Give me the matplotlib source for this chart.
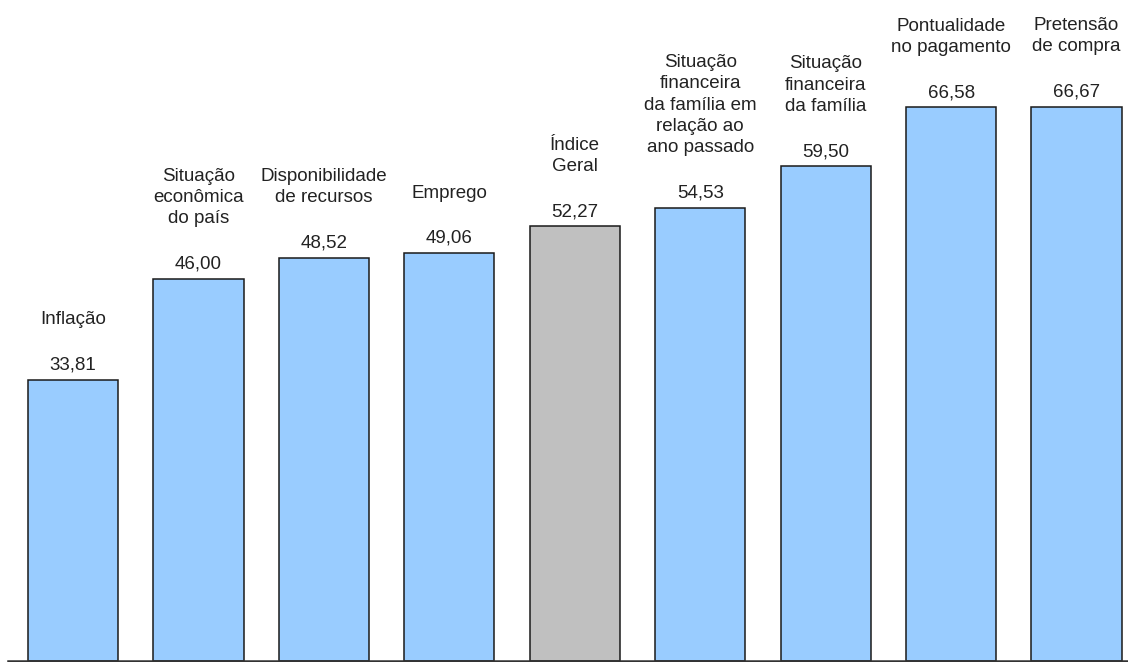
import numpy as np
import matplotlib.pyplot as plt

# Dados
categorias = [
    "Inflação",
    "Situação\neconômica\ndo país",
    "Disponibilidade\nde recursos",
    "Emprego",
    "Índice\nGeral",
    "Situação\nfinanceira\nda família em\nrelação ao\nano passado",
    "Situação\nfinanceira\nda família",
    "Pontualidade\nno pagamento",
    "Pretensão\nde compra",
]
valores = [33.81, 46.00, 48.52, 49.06, 52.27, 54.53, 59.50, 66.58, 66.67]
rotulos = ["33,81", "46,00", "48,52", "49,06", "52,27", "54,53", "59,50", "66,58", "66,67"]
destaque = 4  # Índice Geral em cinza

plt.rcParams['font.family'] = ['Liberation Sans', 'DejaVu Sans']

fig = plt.figure(figsize=(11.28, 6.62), dpi=100)
ax = fig.add_axes([8 / 1128, 1 / 662, 1120 / 1128, 661 / 662])

x = np.arange(len(valores))
cores = ["#99CCFF"] * len(valores)
cores[destaque] = "#C0C0C0"

ax.bar(x, valores, width=0.72, color=cores, edgecolor="#1a1a1a", linewidth=1.1)

for xi, v, r, c in zip(x, valores, rotulos, categorias):
    ax.annotate(r, (xi, v), xytext=(0, 4.5), textcoords="offset points",
                ha="center", va="bottom", fontsize=13.5, color="#222222")
    ax.annotate(c, (xi, v), xytext=(0, 37), textcoords="offset points",
                ha="center", va="bottom", fontsize=13.5, color="#222222",
                linespacing=1.33, multialignment="center")

ax.set_xlim(-0.518, 8.41)
ax.set_ylim(0, 79.5)
for s in ["top", "left", "right"]:
    ax.spines[s].set_visible(False)
ax.spines["bottom"].set_color("#333333")
ax.spines["bottom"].set_linewidth(1.8)
ax.set_xticks([])
ax.set_yticks([])

fig.savefig("out.png", dpi=100)
plt.close(fig)
